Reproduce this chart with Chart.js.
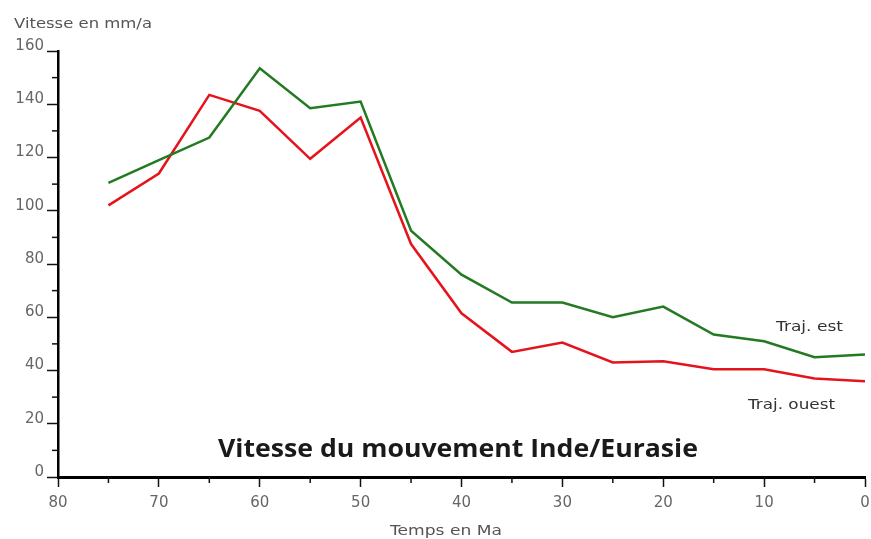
<!DOCTYPE html>
<html>
<head>
<meta charset="utf-8">
<script src="https://cdn.jsdelivr.net/npm/chart.js@4.4.0/dist/chart.umd.min.js"></script>
<style>
  html, body { margin: 0; padding: 0; background: #fff; }
  #wrap { width: 871px; height: 539px; }
</style>
</head>
<body>
<div id="wrap"><canvas id="vitesseChart" width="871" height="539"></canvas></div>
<script>
// temps en Ma (de 75 a 0)
const ages = [75, 70, 65, 60, 55, 50, 45, 40, 35, 30, 25, 20, 15, 10, 5, 0];
const trajEst = [110.5, 119, 127.5, 153.5, 138.5, 141, 92.5, 76, 65.5, 65.5, 60, 64, 53.5, 51, 45, 46];
const trajOuest = [102, 114, 143.5, 137.5, 119.5, 135, 87.5, 61.5, 47, 50.5, 43, 43.5, 40.5, 40.5, 37, 36];
const yTicks = [0, 20, 40, 60, 80, 100, 120, 140, 160];
const xTicks = [80, 70, 60, 50, 40, 30, 20, 10, 0];

const toPoints = vals => vals.map((v, i) => ({ x: ages[i], y: v }));

function fitText(ctx, txt, x, y, width, font, color) {
    ctx.save();
    ctx.font = font;
    ctx.fillStyle = color;
    ctx.textBaseline = 'alphabetic';
    ctx.textAlign = 'left';
    const w = ctx.measureText(txt).width;
    ctx.translate(x, y);
    ctx.scale(width / w, 1);
    ctx.fillText(txt, 0, 0);
    ctx.restore();
}

// petites graduations + textes
const decor = {
    id: 'decor',
    afterDraw(chart) {
        const ctx = chart.ctx;
        const xs = chart.scales.x, ys = chart.scales.y;
        const area = chart.chartArea;
        ctx.save();
        ctx.strokeStyle = '#111';
        ctx.lineWidth = 1.5;
        for (let v = 10; v < 160; v += 20) {
            const py = ys.getPixelForValue(v);
            ctx.beginPath();
            ctx.moveTo(area.left - 6, py);
            ctx.lineTo(area.left, py);
            ctx.stroke();
        }
        for (let v = 5; v < 80; v += 10) {
            const px = xs.getPixelForValue(v);
            ctx.beginPath();
            ctx.moveTo(px, area.bottom);
            ctx.lineTo(px, area.bottom + 6);
            ctx.stroke();
        }
        ctx.restore();

        fitText(ctx, 'Vitesse en mm/a', 14, 28, 138, '14px "DejaVu Sans"', '#555');
        fitText(ctx, 'Temps en Ma', 390, 535, 112, '14px "DejaVu Sans"', '#555');
        fitText(ctx, 'Traj. est', 776, 331, 67, '14px "DejaVu Sans"', '#333');
        fitText(ctx, 'Traj. ouest', 748, 409, 87, '14px "DejaVu Sans"', '#333');
        fitText(ctx, 'Vitesse du mouvement Inde/Eurasie', 218, 457, 480, 'bold 25px "Open Sans"', '#1a1a1a');
    }
};

const ctx = document.getElementById('vitesseChart').getContext('2d');
new Chart(ctx, {
    type: 'line',
    data: {
        datasets: [{
            label: 'Traj. est',
            data: toPoints(trajEst),
            borderColor: '#237a23',
            borderWidth: 2.5,
            pointRadius: 0,
            tension: 0
        }, {
            label: 'Traj. ouest',
            data: toPoints(trajOuest),
            borderColor: '#e5141c',
            borderWidth: 2.5,
            pointRadius: 0,
            tension: 0
        }]
    },
    plugins: [decor],
    options: {
        responsive: false,
        animation: false,
        layout: { padding: { top: 51, right: 0, left: 0, bottom: 0 } },
        plugins: {
            legend: { display: false },
            tooltip: { enabled: false }
        },
        scales: {
            x: {
                type: 'linear',
                reverse: true,
                min: 0,
                max: 80,
                afterBuildTicks: s => { s.ticks = xTicks.map(v => ({ value: v })); },
                afterFit: s => { s.height = 62; s.paddingRight = 6; s.paddingLeft = 0; },
                border: { color: '#000', width: 3 },
                grid: { drawOnChartArea: false, tickLength: 10, color: '#111', tickWidth: 1.5 },
                ticks: {
                    padding: 7,
                    color: '#666',
                    font: { family: 'DejaVu Sans', size: 15 },
                    maxRotation: 0
                }
            },
            y: {
                min: 0,
                max: 160,
                afterBuildTicks: s => { s.ticks = yTicks.map(v => ({ value: v })); },
                afterFit: s => { s.width = 58; },
                border: { color: '#000', width: 2.5 },
                grid: { drawOnChartArea: false, tickLength: 11, color: '#111', tickWidth: 1.5 },
                ticks: {
                    padding: 3,
                    labelOffset: -5,
                    color: '#666',
                    font: { family: 'DejaVu Sans', size: 15 }
                }
            }
        }
    }
});
</script>
</body>
</html>
